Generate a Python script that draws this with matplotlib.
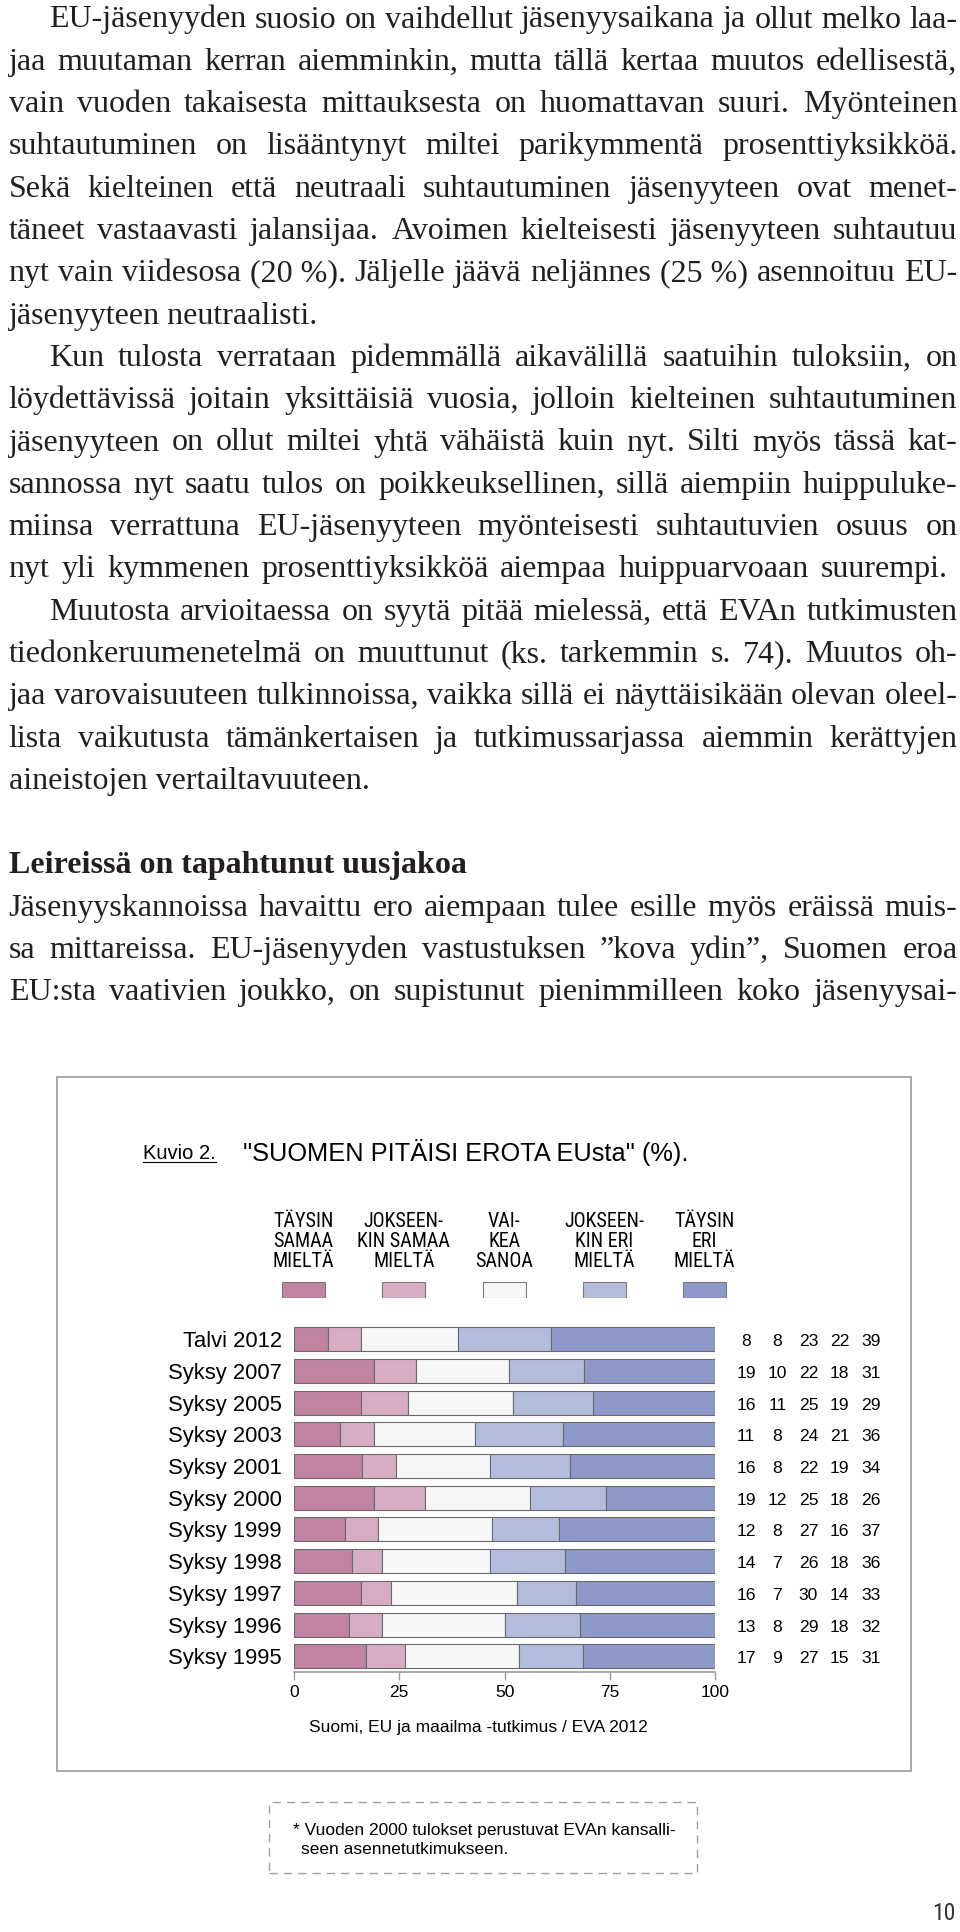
import numpy as np
import matplotlib.pyplot as plt
from matplotlib import font_manager
from matplotlib.patches import Rectangle
from matplotlib.lines import Line2D

# page size in pixels (dpi 100)
W, H = 960, 1932

def fx(x):
    return x / W

def fy(y):
    return 1 - y / H

serif = ['Liberation Serif', 'DejaVu Serif']
sans = ['Liberation Sans', 'DejaVu Sans']
ink = '#231f20'

# pick a narrow sans for the legend / page number if one is installed
fonts = font_manager.fontManager.ttflist
names = {f.name for f in fonts}
narrow, nstretch, nsize = sans, 'normal', 12
for fam in ['Liberation Sans Narrow', 'Arial Narrow', 'Roboto Condensed']:
    if fam in names:
        narrow, nstretch, nsize = [fam, 'DejaVu Sans'], 'normal', 14.4
        break
else:
    for fam in ['Noto Sans', 'DejaVu Sans', 'Open Sans']:
        if any(f.name == fam and f.stretch in ('condensed', 'semi-condensed', 600, 700) for f in fonts):
            narrow, nstretch, nsize = [fam], 'condensed', 13.5
            break

# ---- chart data -----------------------------------------------------------
rows = ['Talvi 2012', 'Syksy 2007', 'Syksy 2005', 'Syksy 2003', 'Syksy 2001',
        'Syksy 2000', 'Syksy 1999', 'Syksy 1998', 'Syksy 1997', 'Syksy 1996',
        'Syksy 1995']
taysin_samaa = [8, 19, 16, 11, 16, 19, 12, 14, 16, 13, 17]
jokseenkin_samaa = [8, 10, 11, 8, 8, 12, 8, 7, 7, 8, 9]
vaikea_sanoa = [23, 22, 25, 24, 22, 25, 27, 26, 30, 29, 27]
jokseenkin_eri = [22, 18, 19, 21, 19, 18, 16, 18, 14, 18, 15]
taysin_eri = [39, 31, 29, 36, 34, 26, 37, 36, 33, 32, 31]
series = [taysin_samaa, jokseenkin_samaa, vaikea_sanoa, jokseenkin_eri, taysin_eri]
legend_labels = [['TÄYSIN', 'SAMAA', 'MIELTÄ'],
                 ['JOKSEEN-', 'KIN SAMAA', 'MIELTÄ'],
                 ['VAI-', 'KEA', 'SANOA'],
                 ['JOKSEEN-', 'KIN ERI', 'MIELTÄ'],
                 ['TÄYSIN', 'ERI', 'MIELTÄ']]
colors = ['#c083a1', '#d7adc3', '#f7f7f7', '#b3bcdc', '#8e99ca']
xticks = [0, 25, 50, 75, 100]

# ---- body text ------------------------------------------------------------
# (line index, text, indent, justify)
body = [
    (0, "EU-jäsenyyden suosio on vaihdellut jäsenyysaikana ja ollut melko laa-", True, True),
    (1, "jaa muutaman kerran aiemminkin, mutta tällä kertaa muutos edellisestä,", False, True),
    (2, "vain vuoden takaisesta mittauksesta on huomattavan suuri. Myönteinen", False, True),
    (3, "suhtautuminen on lisääntynyt miltei parikymmentä prosenttiyksikköä.", False, True),
    (4, "Sekä kielteinen että neutraali suhtautuminen jäsenyyteen ovat menet-", False, True),
    (5, "täneet vastaavasti jalansijaa. Avoimen kielteisesti jäsenyyteen suhtautuu", False, True),
    (6, "nyt vain viidesosa (20\u00a0%). Jäljelle jäävä neljännes (25\u00a0%) asennoituu EU-", False, True),
    (7, "jäsenyyteen neutraalisti.", False, False),
    (8, "Kun tulosta verrataan pidemmällä aikavälillä saatuihin tuloksiin, on", True, True),
    (9, "löydettävissä joitain yksittäisiä vuosia, jolloin kielteinen suhtautuminen", False, True),
    (10, "jäsenyyteen on ollut miltei yhtä vähäistä kuin nyt. Silti myös tässä kat-", False, True),
    (11, "sannossa nyt saatu tulos on poikkeuksellinen, sillä aiempiin huippuluke-", False, True),
    (12, "miinsa verrattuna EU-jäsenyyteen myönteisesti suhtautuvien osuus on", False, True),
    (13, "nyt yli kymmenen prosenttiyksikköä aiempaa huippuarvoaan suurempi.", False, 'short'),
    (14, "Muutosta arvioitaessa on syytä pitää mielessä, että EVAn tutkimusten", True, True),
    (15, "tiedonkeruumenetelmä on muuttunut (ks. tarkemmin s. 74). Muutos oh-", False, True),
    (16, "jaa varovaisuuteen tulkinnoissa, vaikka sillä ei näyttäisikään olevan oleel-", False, True),
    (17, "lista vaikutusta tämänkertaisen ja tutkimussarjassa aiemmin kerättyjen", False, True),
    (18, "aineistojen vertailtavuuteen.", False, False),
    (21, "Jäsenyyskannoissa havaittu ero aiempaan tulee esille myös eräissä muis-", False, True),
    (22, "sa mittareissa. EU-jäsenyyden vastustuksen \u201dkova ydin\u201d, Suomen eroa", False, True),
    (23, "EU:sta vaativien joukko, on supistunut pienimmilleen koko jäsenyysai-", False, True),
]
heading = "Leireissä on tapahtunut uusjakoa"

fig = plt.figure(figsize=(W / 100, H / 100), dpi=100)
renderer = fig.canvas.get_renderer()

body_size = 23
left_x, right_x, indent_x = 8.6, 957.5, 49
line0, pitch = 27.5, 42.3
min_gap = 6.0

def put_line(text, x0, x1, ybase, justify):
    if not justify:
        fig.text(fx(x0), fy(ybase), text, fontsize=body_size, family=serif,
                 va='baseline', color=ink)
        return
    words = text.split(' ')
    arts = [fig.text(0, fy(ybase), w, fontsize=body_size, family=serif,
                     va='baseline', color=ink) for w in words]
    widths = [a.get_window_extent(renderer).width for a in arts]
    gap = (x1 - x0 - sum(widths)) / (len(words) - 1)
    if gap < min_gap:
        s = (x1 - x0 - min_gap * (len(words) - 1)) / sum(widths)
        for a in arts:
            a.set_fontsize(body_size * s)
        widths = [w * s for w in widths]
        gap = min_gap
    x = x0
    for a, w in zip(arts, widths):
        a.set_x(fx(x))
        x += w + gap

for i, text, ind, just in body:
    x0 = indent_x if ind else left_x
    x1 = 948 if just == 'short' else right_x
    put_line(text, x0, x1, line0 + pitch * i, bool(just))

fig.text(fx(left_x), fy(line0 + pitch * 20), heading, fontsize=body_size,
         family=serif, weight='bold', va='baseline', color=ink)

# ---- chart frame and titles -----------------------------------------------
fig.add_artist(Rectangle((fx(57.3), fy(1771)), (910.7 - 57.3) / W, (1771 - 1077.3) / H,
                         transform=fig.transFigure, fill=False, ec='#9a9a9a', lw=1.2))
fig.text(fx(143), fy(1159), 'Kuvio 2.', fontsize=14.5, family=sans, va='baseline')
fig.add_artist(Line2D([fx(143), fx(216)], [fy(1162), fy(1162)], color='black', lw=0.8))
fig.text(fx(243), fy(1161.5), '"SUOMEN PITÄISI EROTA EUsta" (%).', fontsize=18.3,
         family=sans, va='baseline')

# legend row
leg = fig.add_axes([fx(253.35), fy(1298.3), 501.5 / W, 93.3 / H])
leg.set_xlim(-0.5, 4.5)
leg.set_ylim(0, 93.3)
leg.axis('off')
leg.bar(range(5), 16.6, width=0.43, bottom=0, color=colors, edgecolor='#7a7a7a',
        linewidth=0.8, align='center')
for k, lines in enumerate(legend_labels):
    for j, t in enumerate(lines):
        leg.text(k, 76.6 - 20 * j, t, ha='center', va='center', fontsize=nsize,
                 family=narrow, fontstretch=nstretch)

# stacked 100 % bars
ax = fig.add_axes([fx(294), fy(1671.7), (715 - 294) / W, (1671.7 - 1323.3) / H])
vals = np.array(series, dtype=float)
share = vals / vals.sum(axis=0) * 100
idx = np.arange(len(rows))
left = np.zeros(len(rows))
for k in range(len(series)):
    ax.barh(idx, share[k], left=left, height=0.757, color=colors[k],
            edgecolor='#6a6a6a', linewidth=0.8)
    left += share[k]
ax.set_xlim(0, 100)
ax.set_ylim(10.486, -0.5)
for s in ['top', 'right', 'left']:
    ax.spines[s].set_visible(False)
ax.spines['bottom'].set_color('#9a9a9a')
ax.spines['bottom'].set_linewidth(1.2)
ax.set_xticks(xticks)
ax.set_xticklabels([str(t) for t in xticks], family=sans)
ax.tick_params(axis='x', length=5.9, width=1, color='#9a9a9a', labelsize=12.5, pad=3.5)
ax.set_yticks(idx)
ax.set_yticklabels(rows, family=sans)
ax.tick_params(axis='y', length=0, labelsize=15.8, pad=8.9)
ax.set_facecolor('none')

# value table right of the bars
col_x = 107.4 + 7.4 * np.arange(len(series))
for r in idx:
    for k in range(len(series)):
        ax.text(col_x[k], r + 0.22, str(series[k][r]), ha='center', va='baseline',
                fontsize=12.6, family=sans, clip_on=False)

fig.text(fx(309), fy(1727.3), 'Suomi, EU ja maailma -tutkimus / EVA 2012',
         fontsize=12.5, family=sans, va='center')

# footnote box
fig.add_artist(Rectangle((fx(268.6), fy(1873)), (697 - 268.6) / W, (1873 - 1802) / H,
                         transform=fig.transFigure, fill=False, ec='#a0a0a0', lw=1,
                         ls=(0, (6, 4.3))))
fig.text(fx(293.4), fy(1830), '* Vuoden 2000 tulokset perustuvat EVAn kansalli-',
         fontsize=12.5, family=sans, va='center')
fig.text(fx(301), fy(1850), 'seen asennetutkimukseen.', fontsize=12.5, family=sans,
         va='center')

fig.text(fx(956), fy(1914), '10', fontsize=17, family=narrow, fontstretch=nstretch,
         ha='right', va='center', color='#333333')

fig.savefig('out.png', dpi=100)
